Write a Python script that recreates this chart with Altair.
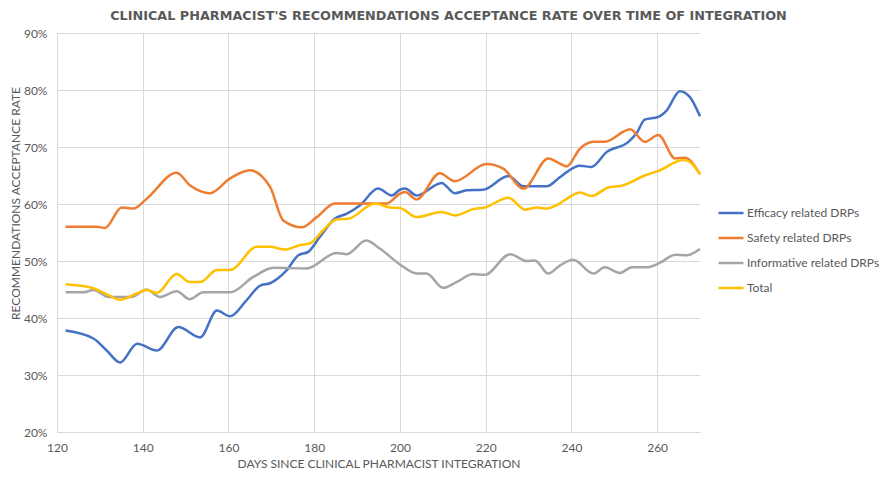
import altair as alt
import pandas as pd

series_names = ["Efficacy related DRPs", "Safety related DRPs", "Informative related DRPs", "Total"]
series_colors = ["#4472C4", "#ED7D31", "#A5A5A5", "#FFC000"]

eff_days = [122, 128.5, 131.6, 134.7, 138.7, 143.3, 148.3, 153.4, 157.3, 160.4, 164.2, 167.4, 169.7,
            173.6, 176.3, 178.6, 181.3, 184.8, 187.6, 190.7, 194.9, 198.1, 200, 201.2, 203.9, 209.7,
            212.8, 215.6, 219.4, 225.3, 228.8, 234.2, 237.3, 238.9, 242, 244.7, 248.2, 253.3, 255.2,
            257.1, 260.3, 262.2, 265.3, 267.6, 270]
eff_vals = [37.8, 36.4, 34.3, 32.2, 35.5, 34.3, 38.4, 36.6, 41.3, 40.3, 43.1, 45.7, 46.1,
            48.4, 51.0, 51.6, 54.2, 57.4, 58.3, 59.8, 62.7, 61.5, 62.5, 62.7, 61.5, 63.7,
            61.9, 62.4, 62.5, 64.9, 63.1, 63.1, 64.7, 65.6, 66.7, 66.5, 69.1, 70.9, 72.4,
            74.8, 75.3, 76.4, 79.8, 78.8, 75.4]

saf_days = [122, 129.3, 131.2, 135.1, 137.8, 140.9, 147.9, 151, 155.7, 160.4, 165, 169.7, 172.8,
            177.1, 180.6, 184.8, 196.9, 200, 201.2, 203.9, 209.3, 212.8, 220.2, 224.1, 228.8,
            234.6, 237.3, 238.9, 242, 245.1, 247.8, 253.7, 257.1, 260.3, 264.2, 266.5, 270]
saf_vals = [56.0, 56.0, 55.8, 59.4, 59.2, 60.9, 65.5, 63.3, 61.9, 64.5, 65.9, 63.0, 57.1,
            55.9, 57.7, 60.1, 60.1, 61.8, 62.1, 60.8, 65.4, 64.0, 67.0, 66.2, 62.7,
            68.0, 67.1, 66.6, 69.7, 70.9, 70.9, 73.1, 70.9, 72.1, 68.0, 68.1, 65.2]

inf_days = [122, 126.1, 128.5, 132, 137.4, 140.9, 144, 147.9, 151, 154.1, 160.4, 165.8, 170.5,
            178.2, 185.2, 187.6, 192.1, 195.3, 200, 203.9, 206.2, 210.1, 213.2, 217.1, 219.8,
            225.7, 229.6, 231.5, 234.6, 237.3, 240.4, 245.1, 247.8, 251.3, 254.1, 257.6, 260.7,
            264.2, 266.9, 270]
inf_vals = [44.5, 44.5, 44.9, 43.7, 43.7, 45.0, 43.7, 44.7, 43.3, 44.5, 44.5, 47.2, 48.8,
            48.7, 51.4, 51.2, 53.6, 52.2, 49.4, 47.8, 47.8, 45.3, 46.3, 47.7, 47.6,
            51.2, 50.0, 50.1, 47.8, 49.2, 50.2, 47.8, 48.9, 47.9, 48.9, 48.9, 49.7,
            51.1, 51.0, 52.1]

tot_days = [122, 128.1, 132, 134.7, 138.6, 140.9, 143.3, 147.9, 151, 153.4, 157.3, 160.4, 166.6,
            169.7, 173.2, 176.7, 179, 182.1, 185.2, 187.9, 194.2, 197.7, 200, 203.9, 209.7,
            212.8, 217.1, 219.8, 225.3, 229.2, 231.9, 234.2, 237.3, 238.9, 242, 244.7, 248.6,
            251.7, 257.1, 260.3, 266.1, 267.6, 270]
tot_vals = [45.9, 45.3, 44.0, 43.2, 44.3, 44.9, 44.4, 47.7, 46.3, 46.3, 48.4, 48.4, 52.5,
            52.5, 52.0, 52.8, 53.1, 55.4, 57.3, 57.4, 60.1, 59.4, 59.3, 57.7, 58.6,
            58.0, 59.1, 59.4, 61.1, 59.0, 59.4, 59.2, 60.1, 60.9, 62.0, 61.4, 62.9,
            63.2, 65.0, 65.8, 67.7, 67.4, 65.2]

x_ticks = [120, 140, 160, 180, 200, 220, 240, 260]
y_ticks = [20, 30, 40, 50, 60, 70, 80, 90]

rows = []
for name, days, vals in zip(series_names,
                            [eff_days, saf_days, inf_days, tot_days],
                            [eff_vals, saf_vals, inf_vals, tot_vals]):
    for d, v in zip(days, vals):
        rows.append({"series": name, "day": d, "rate": v})
df = pd.DataFrame(rows)

FONT = "Lato"
TXT = "#595959"
GRID = "#D9D9D9"

chart = alt.Chart(df).mark_line(strokeWidth=2.5, interpolate="monotone").encode(
    x=alt.X("day:Q",
            scale=alt.Scale(domain=[120, 270], nice=False, zero=False),
            axis=alt.Axis(values=x_ticks, title="DAYS SINCE CLINICAL PHARMACIST INTEGRATION",
                          grid=True, gridColor=GRID, ticks=False, domainColor=GRID,
                          labelColor=TXT, labelFontSize=12, labelFont=FONT, labelPadding=10,
                          titleColor=TXT, titleFontSize=12, titleFont=FONT, titleFontWeight="normal",
                          titlePadding=5, labelFlush=False)),
    y=alt.Y("rate:Q",
            scale=alt.Scale(domain=[20, 90], nice=False, zero=False),
            axis=alt.Axis(values=y_ticks, title="RECOMMENDATIONS ACCEPTANCE RATE",
                          labelExpr="datum.value + '%'",
                          grid=True, gridColor=GRID, ticks=False, domain=False,
                          labelColor=TXT, labelFontSize=12, labelFont=FONT, labelPadding=10,
                          titleColor=TXT, titleFontSize=12, titleFont=FONT, titleFontWeight="normal",
                          titleX=-42, titleY=170, titleBaseline="middle", titleAlign="center")),
    color=alt.Color("series:N",
                    scale=alt.Scale(domain=series_names, range=series_colors),
                    sort=series_names,
                    legend=alt.Legend(title=None, orient="none", legendX=660, legendY=166,
                                      symbolType="stroke", symbolSize=625, symbolStrokeWidth=2.5,
                                      labelFont=FONT, labelFontSize=12, labelColor=TXT,
                                      labelOffset=2, rowPadding=5)),
).properties(
    width=643,
    height=399,
    autosize=alt.AutoSizeParams(type="none"),
    padding={"left": 49, "top": 25, "right": 180, "bottom": 37},
    title=alt.TitleParams(
        text="CLINICAL PHARMACIST'S RECOMMENDATIONS ACCEPTANCE RATE OVER TIME OF INTEGRATION",
        font="DejaVu Sans", fontSize=12.8, fontWeight="bold", color=TXT, anchor="middle",
        dx=70, offset=4),
).configure_view(stroke=None)

chart.save("out.html", embed_options={"renderer": "svg", "actions": False})
